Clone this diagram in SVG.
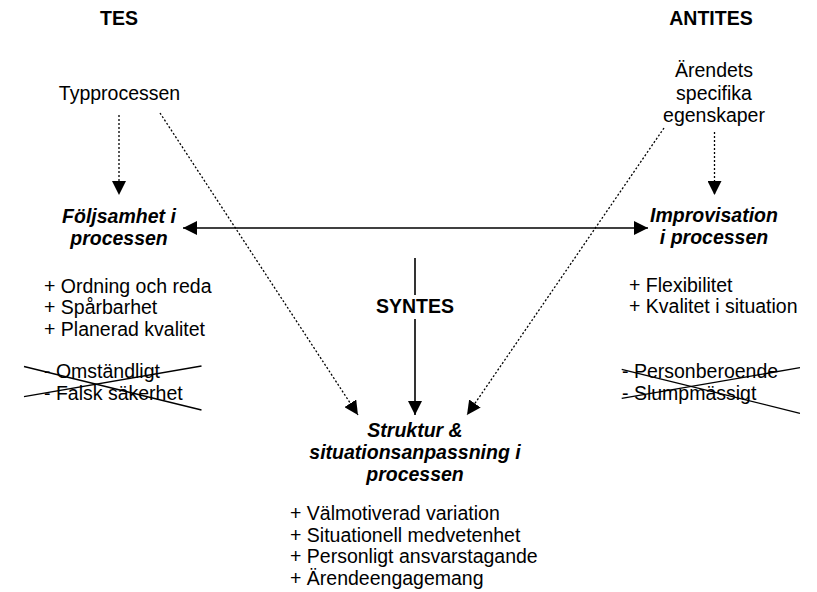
<svg xmlns="http://www.w3.org/2000/svg" width="817" height="592" viewBox="0 0 817 592">
<style>
text{font-family:"Liberation Sans",Arial,sans-serif;font-size:19.5px;fill:#000}
.b{font-weight:bold}
.bi{font-weight:bold;font-style:italic}
.c{text-anchor:middle}
.dot{stroke:#000;stroke-width:1.3;stroke-dasharray:2 2;fill:none}
.sol{stroke:#000;stroke-width:1.6;fill:none}
.x{stroke:#000;stroke-width:1.3}
</style>
<defs>
<marker id="ah" viewBox="0 0 14 14" refX="14" refY="7" markerUnits="userSpaceOnUse" markerWidth="14" markerHeight="14" orient="auto-start-reverse">
<path d="M0,0 L14,7 L0,14 z" fill="#000"/>
</marker>
</defs>
<rect width="817" height="592" fill="#fff"/>
<g id="connectors">
<line class="dot" x1="119" y1="115" x2="119" y2="195" marker-end="url(#ah)"/>
<line class="dot" x1="714.5" y1="132" x2="714.5" y2="195" marker-end="url(#ah)"/>
<line class="dot" x1="160" y1="113" x2="358" y2="415" marker-end="url(#ah)"/>
<line class="dot" x1="664" y1="128" x2="467" y2="415" marker-end="url(#ah)"/>
<line class="sol" x1="183" y1="228" x2="648" y2="228" marker-start="url(#ah)" marker-end="url(#ah)"/>
<line class="sol" x1="415" y1="258" x2="415" y2="295"/>
<line class="sol" x1="415" y1="319" x2="415" y2="415" marker-end="url(#ah)"/>
</g>
<g id="tes"><text class="b c" x="119" y="25">TES</text></g>
<g id="antites"><text class="b c" x="711" y="25">ANTITES</text></g>
<g id="typprocessen"><text class="c" x="119.5" y="100">Typprocessen</text></g>
<g id="arendets">
<text class="c" x="714" y="77">Ärendets</text>
<text class="c" x="714" y="99.5">specifika</text>
<text class="c" x="714" y="122">egenskaper</text>
</g>
<g id="foljsamhet">
<text class="bi c" x="119" y="223">Följsamhet i</text>
<text class="bi c" x="119" y="245">processen</text>
<text x="44" y="292.7">+ Ordning och reda</text>
<text x="44" y="314.3">+ Spårbarhet</text>
<text x="44" y="336">+ Planerad kvalitet</text>
<text x="44" y="378">- Omständligt</text>
<text x="44" y="400">- Falsk säkerhet</text>
<line class="x" x1="24" y1="366.5" x2="201.5" y2="410"/>
<line class="x" x1="24" y1="396.7" x2="201.5" y2="366"/>
</g>
<g id="improvisation">
<text class="bi c" x="714" y="222">Improvisation</text>
<text class="bi c" x="714" y="244">i processen</text>
<text x="629" y="291.7">+ Flexibilitet</text>
<text x="629" y="313.3">+ Kvalitet i situation</text>
<text x="622" y="378.3">- Personberoende</text>
<text x="622" y="400">- Slumpmässigt</text>
<line class="x" x1="621.7" y1="369.3" x2="800" y2="413.3"/>
<line class="x" x1="621.7" y1="398.3" x2="800" y2="367.7"/>
</g>
<g id="syntes"><text class="b c" x="415" y="312.7">SYNTES</text></g>
<g id="struktur">
<text class="bi c" x="415" y="437">Struktur &amp;</text>
<text class="bi c" x="415" y="459">situationsanpassning i</text>
<text class="bi c" x="415" y="480.5">processen</text>
<text x="290" y="519.7">+ Välmotiverad variation</text>
<text x="290" y="541.7">+ Situationell medvetenhet</text>
<text x="290" y="563.3">+ Personligt ansvarstagande</text>
<text x="290" y="585">+ Ärendeengagemang</text>
</g>
</svg>
